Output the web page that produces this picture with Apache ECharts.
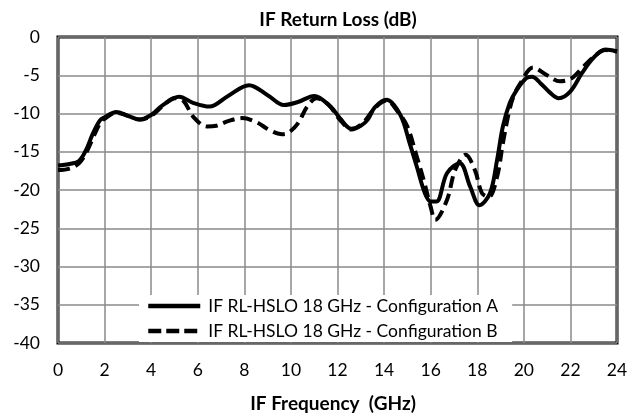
<!DOCTYPE html>
<html>
<head>
<meta charset="utf-8">
<script src="https://cdn.jsdelivr.net/npm/echarts@6/dist/echarts.min.js"></script>
<style>html,body{margin:0;padding:0;background:#fff;}#c{width:644px;height:418px;}</style>
</head>
<body>
<div id="c"></div>
<script>
var freqA = [0, 0.5, 0.9, 1.2, 1.5, 1.8, 2.0, 2.5, 3.0, 3.5, 4.0, 4.5, 5.2, 5.8, 6.5, 7.3, 8.2, 9.0, 9.7, 10.3, 11.0, 11.7, 12.1, 12.6, 13.0, 13.3, 13.6, 14.1, 14.7, 15.1, 15.4, 15.75, 16.0, 16.25, 16.7, 17.25, 17.7, 18.1, 18.55, 18.85, 19.1, 19.4, 19.7, 20.1, 20.35, 20.7, 21.1, 21.5, 22.0, 22.5, 23.0, 23.5, 24];
var valsA = [-16.8, -16.6, -16.2, -14.8, -12.6, -10.9, -10.5, -9.8, -10.3, -10.8, -10.2, -8.9, -7.8, -8.6, -9.1, -7.7, -6.3, -7.6, -8.9, -8.5, -7.7, -9.1, -10.6, -12.0, -11.6, -10.8, -9.2, -8.2, -10.2, -13.9, -16.9, -20.4, -21.5, -21.5, -17.8, -16.5, -19.6, -22.0, -20.4, -16.1, -11.7, -8.6, -6.9, -5.4, -5.2, -6.0, -7.2, -8.0, -7.1, -4.7, -2.7, -1.65, -1.9];
var freqB = [0, 0.5, 0.9, 1.2, 1.5, 1.8, 2.0, 2.5, 3.0, 3.5, 4.0, 4.5, 5.0, 5.4, 5.8, 6.4, 6.8, 7.3, 7.9, 8.5, 9.1, 9.6, 9.9, 10.3, 10.7, 11.1, 11.6, 12.1, 12.6, 13.1, 13.6, 14.1, 14.6, 15.0, 15.4, 15.7, 16.0, 16.2, 16.7, 17.05, 17.5, 17.9, 18.2, 18.5, 18.85, 19.1, 19.35, 19.55, 19.85, 20.4, 21.0, 21.55, 22.05, 22.55, 23.0, 23.5, 24];
var valsB = [-17.4, -17.2, -16.5, -15.2, -13.2, -11.3, -10.7, -9.9, -10.3, -10.8, -10.3, -9.0, -8.0, -8.4, -10.4, -11.7, -11.6, -11.0, -10.6, -11.1, -12.2, -12.7, -12.5, -11.3, -9.1, -8.0, -8.8, -10.8, -12.1, -11.2, -9.3, -8.3, -9.8, -11.7, -15.6, -18.7, -22.2, -23.9, -21.3, -17.4, -15.4, -17.4, -20.4, -20.9, -18.3, -13.9, -10.0, -7.8, -6.05, -4.0, -5.0, -5.8, -5.4, -3.9, -2.6, -1.7, -1.9];
var seriesNames = ['IF RL-HSLO 18 GHz - Configuration A', 'IF RL-HSLO 18 GHz - Configuration B'];
var titleText = 'IF Return Loss (dB)';
var xTitle = 'IF Frequency  (GHz)';

function pairs(xs, ys) { return xs.map(function (x, i) { return [x, ys[i]]; }); }

var FONT = 'Lato';
var chart = echarts.init(document.getElementById('c'), null, { renderer: 'canvas' });
chart.setOption({
  backgroundColor: '#fff',
  animation: false,
  textStyle: { fontFamily: FONT },
  title: [
    { text: titleText, left: 333, top: 5, textAlign: 'center',
      textStyle: { fontFamily: FONT, fontSize: 19, fontWeight: 'bold', color: '#000' } },
    { text: xTitle, left: 328, top: 389, textAlign: 'center',
      textStyle: { fontFamily: FONT, fontSize: 19, fontWeight: 'bold', color: '#000' } }
  ],
  grid: { left: 58, right: 27, top: 37, bottom: 75, show: true, borderColor: '#000', borderWidth: 3, backgroundColor: 'transparent' },
  legend: {
    orient: 'vertical', left: 139, top: 295, padding: [2, 14, 2, 7],
    backgroundColor: '#fff', itemWidth: 52, itemHeight: 14, itemGap: 7,
    itemStyle: { opacity: 0 },
    lineStyle: { width: 4.5, color: '#000' },
    textStyle: { fontFamily: FONT, fontSize: 17.5, color: '#000', padding: [0, 0, 0, 3] },
    data: [
      { name: seriesNames[0] },
      { name: seriesNames[1], lineStyle: { type: [13, 5], width: 4.5 } }
    ]
  },
  xAxis: {
    type: 'value', min: 0, max: 24, interval: 2,
    axisLine: { show: false }, axisTick: { show: false },
    axisLabel: { fontSize: 17.5, color: '#000', margin: 18, fontFamily: FONT },
    splitLine: { show: true, lineStyle: { color: '#8a8a8a', width: 1.5 } }
  },
  yAxis: {
    type: 'value', min: -40, max: 0, interval: 5,
    axisLine: { show: false }, axisTick: { show: false },
    axisLabel: { fontSize: 17.5, color: '#000', margin: 18, fontFamily: FONT },
    splitLine: { show: true, lineStyle: { color: '#8a8a8a', width: 1.5 } }
  },
  series: [
    { name: seriesNames[0], type: 'line', data: pairs(freqA, valsA), smooth: 0.35, symbol: 'none', showSymbol: false,
      lineStyle: { color: '#000', width: 4, type: 'solid' }, itemStyle: { color: '#000' }, z: 3 },
    { name: seriesNames[1], type: 'line', data: pairs(freqB, valsB), smooth: 0.35, symbol: 'none', showSymbol: false,
      lineStyle: { color: '#000', width: 4, type: [12, 6] }, itemStyle: { color: '#000' }, z: 3 }
  ]
});
</script>
</body>
</html>
